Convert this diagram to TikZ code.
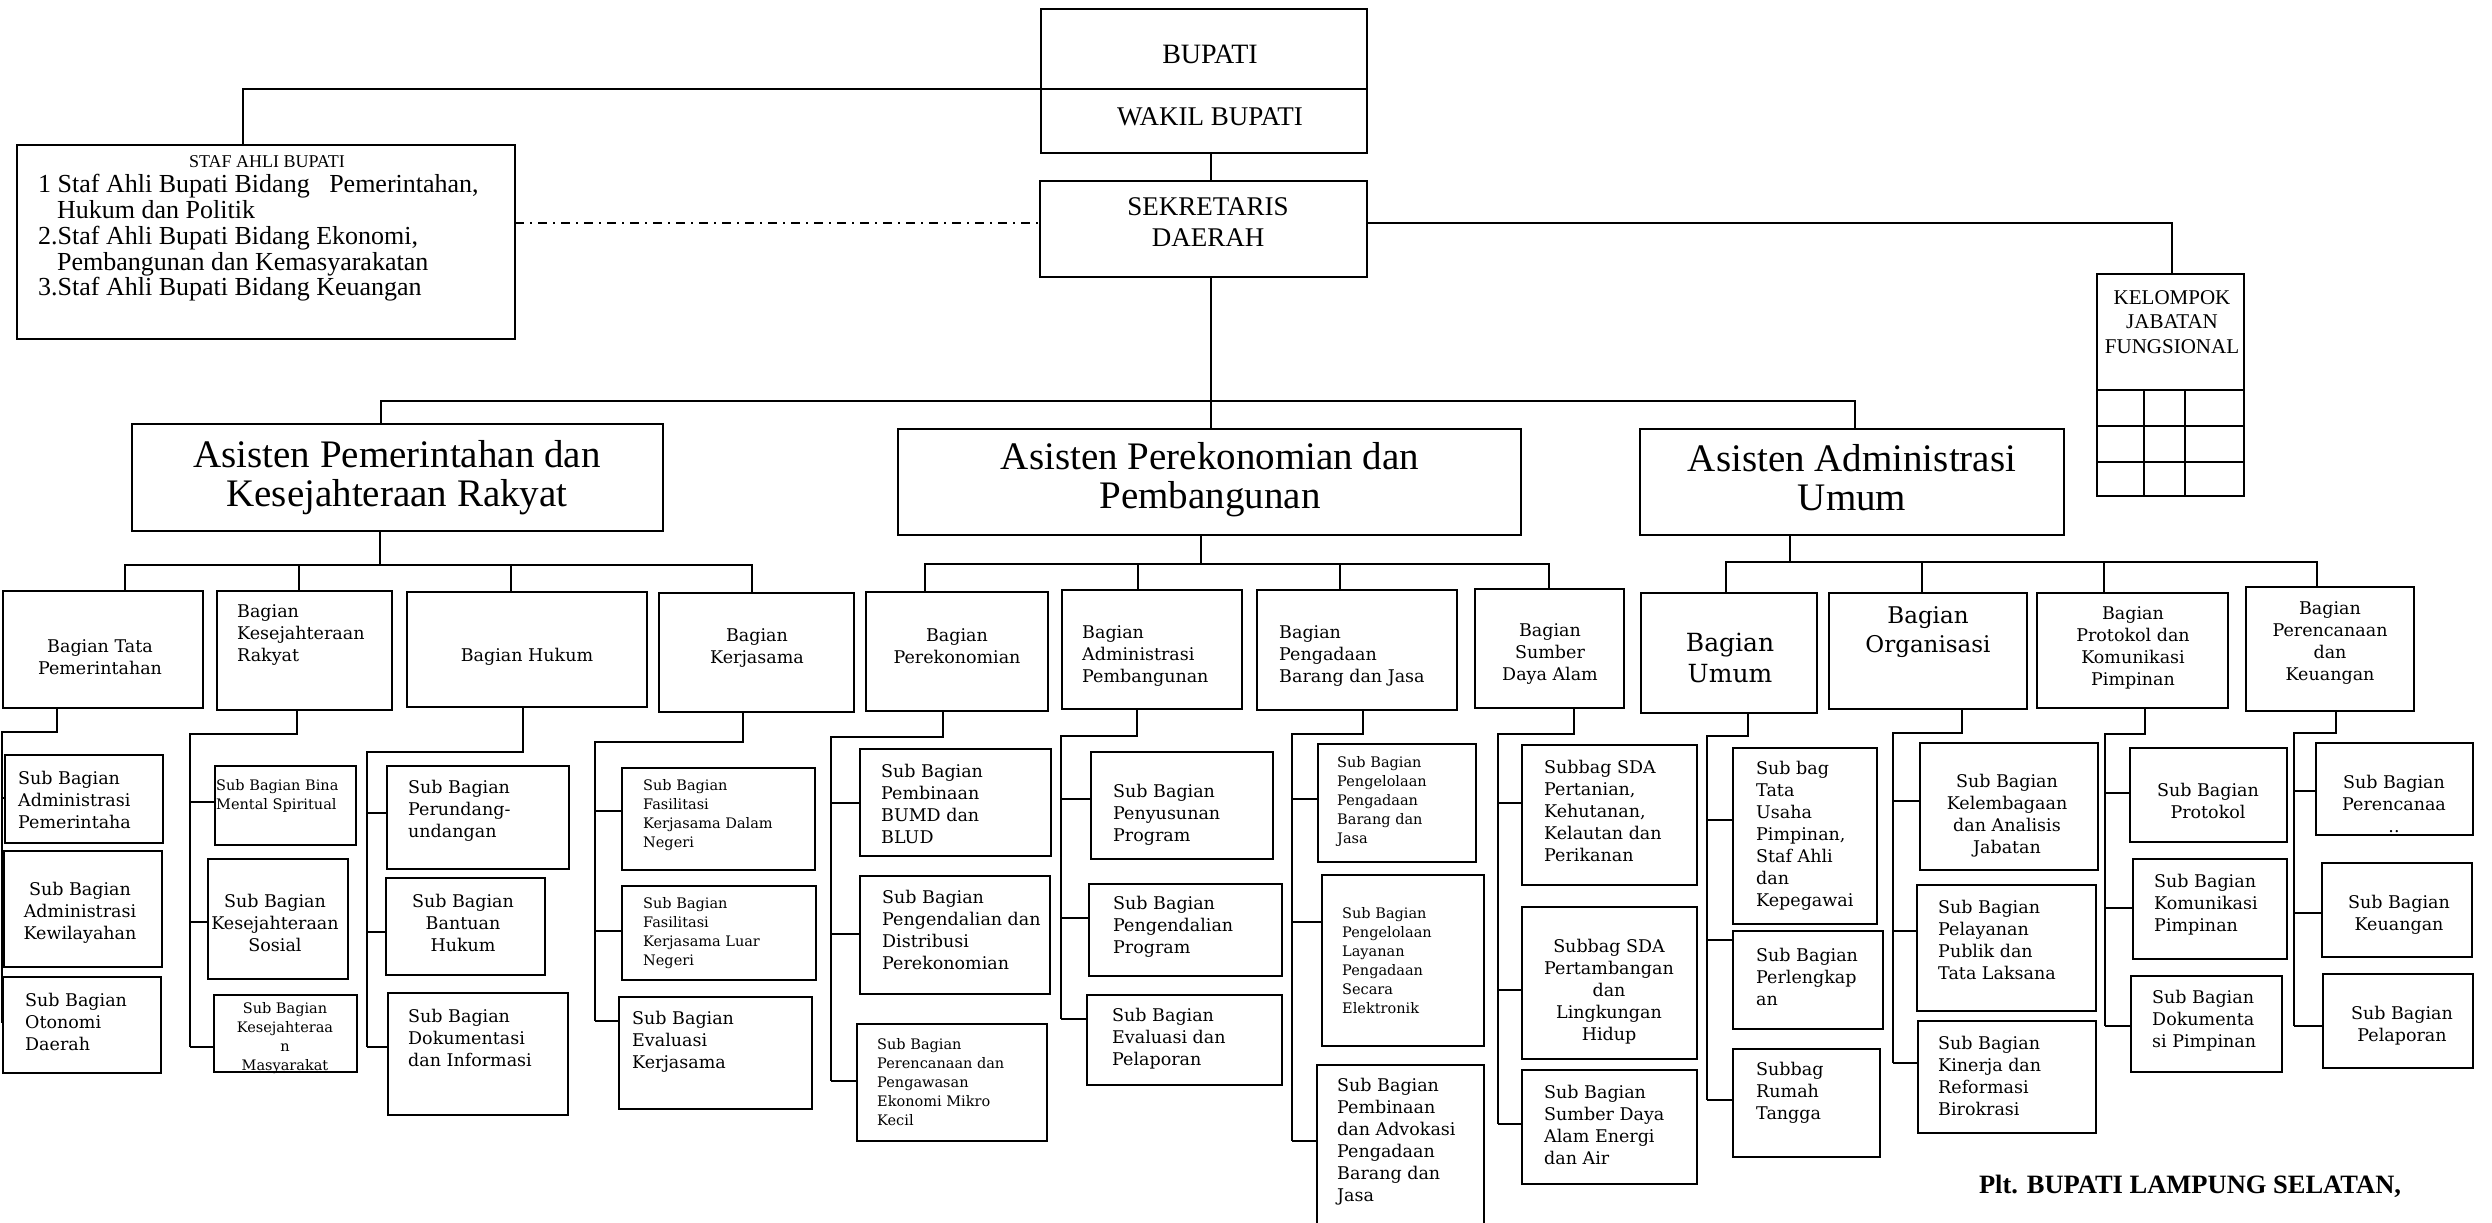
\documentclass[tikz,border=0pt]{standalone}
\usepackage{fontspec}
\setmainfont{Liberation Serif}
\newfontfamily\dser{DejaVu Serif}
\usetikzlibrary{fit}
\newcommand\fa{\dser\fontsize{17.5}{22}\selectfont}
\newcommand\fsm{\dser\fontsize{14.5}{19}\selectfont}
\newcommand\fbig{\dser\fontsize{25}{31}\selectfont}
\newcommand\fmid{\dser\fontsize{23}{29}\selectfont}
\tikzset{
  bx/.style={draw, line width=1.8pt, inner sep=0pt, outer sep=0pt},
  ln/.style={line width=1.8pt, line join=miter},
  tl/.style={inner sep=0pt, align=left, anchor=west, font=\fa},
  tc/.style={inner sep=0pt, align=center, anchor=center, font=\fa},
}
\newcommand\bxx[5]{\node[bx, fit={(#2,#3) (#4,#5)}] (#1) {};}
\newcommand\mytree[5]{\draw[ln] (#2,0 |- #1.south) |- (#4,#3) -- (#4,#5);}
\newcommand\mybr[3]{\draw[ln] (#1,#2) -- (#3.west |- #1,#2);}
\begin{document}
\begin{tikzpicture}[x=1pt,y=-1pt]
\useasboundingbox (0,0) rectangle (2492,1223);
\fill[white] (0,0) rectangle (2492,1223);
\clip (0,0) rectangle (2492,1223);

% ---------- top level ----------
\bxx{bBupati}{1041}{9}{1367}{89}
\bxx{bWakil}{1041}{89}{1367}{153}
\bxx{bSekda}{1040}{181}{1367}{277}
\bxx{bStaf}{17}{145}{515}{339}
\bxx{bKJF}{2097}{274}{2244}{390}
\bxx{bKJFg}{2097}{390}{2244}{496}
\draw[ln] (bKJFg.west |- 0,426) -- (bKJFg.east |- 0,426);
\draw[ln] (bKJFg.west |- 0,462) -- (bKJFg.east |- 0,462);
\draw[ln] (2144,0 |- bKJFg.north) -- (2144,0 |- bKJFg.south);
\draw[ln] (2185,0 |- bKJFg.north) -- (2185,0 |- bKJFg.south);

\node[font=\fontsize{28}{31}\selectfont, inner sep=0pt] (tBupati) at (1210,54) {BUPATI};
\node[font=\fontsize{27}{31}\selectfont, inner sep=0pt] (tWakil) at (1210,117) {WAKIL BUPATI};
\node[font=\fontsize{27}{31}\selectfont, inner sep=0pt, align=center] (tSekda) at (1208,222) {SEKRETARIS\\DAERAH};
\node[font=\fontsize{21}{24.5}\selectfont, inner sep=0pt, align=center] (tKJF) at (2172,322) {KELOMPOK\\JABATAN\\FUNGSIONAL};
\node[font=\fontsize{18}{20}\selectfont, inner sep=0pt] (tStafT) at (267,162) {STAF AHLI BUPATI};
\node[font=\fontsize{26}{25.8}\selectfont, inner sep=0pt, align=left, anchor=west] (tStaf) at (38,238)
  {1 Staf Ahli Bupati Bidang\ \ \ Pemerintahan,\\\hspace*{19pt}Hukum dan Politik\\2.Staf Ahli Bupati Bidang Ekonomi,\\\hspace*{19pt}Pembangunan dan Kemasyarakatan\\3.Staf Ahli Bupati Bidang Keuangan};

\coordinate (cStaf) at (243,145);
\draw[ln] (bWakil.north west) -| (cStaf);
\draw[ln] (1211,0 |- bWakil.south) -- (1211,0 |- bSekda.north);
\draw[ln, dash pattern={on 9pt off 6pt on 2pt off 6pt}] (bStaf.east |- 0,223) -- (bSekda.west |- 0,223);
\draw[ln] (bSekda.east |- 0,223) -| (2172,0 |- bKJF.north);

% ---------- asisten ----------
\bxx{bAs1}{132}{424}{663}{531}
\bxx{bAs2}{898}{429}{1521}{535}
\bxx{bAs3}{1640}{429}{2064}{535}
\node[font=\fontsize{39}{39}\selectfont, inner sep=0pt, align=center] (tAs1) at (397,478) {Asisten Pemerintahan dan\\Kesejahteraan Rakyat};
\node[font=\fontsize{39}{39}\selectfont, inner sep=0pt, align=center] (tAs2) at (1210,480) {Asisten Perekonomian dan\\Pembangunan};
\node[font=\fontsize{39}{39}\selectfont, inner sep=0pt, align=center] (tAs3) at (1852,478) {Asisten Administrasi\\Umum};

\draw[ln] (1211,0 |- bSekda.south) -- (1211,401);
\draw[ln] (381,0 |- bAs1.north) |- (1855,401) -- (1855,0 |- bAs3.north);
\draw[ln] (1211,401) -- (1211,0 |- bAs2.north);

% ---------- bagian ----------
\bxx{bTata}{3}{591}{203}{708}
\bxx{bKesR}{217}{591}{392}{710}
\bxx{bHukum}{407}{592}{647}{707}
\bxx{bKerja}{659}{593}{854}{712}
\bxx{bPerek}{866}{592}{1048}{711}
\bxx{bAdmP}{1062}{590}{1242}{709}
\bxx{bPBJ}{1257}{590}{1457}{710}
\bxx{bSDA}{1475}{589}{1624}{708}
\bxx{bUmum}{1641}{593}{1817}{713}
\bxx{bOrg}{1829}{593}{2027}{709}
\bxx{bProt}{2037}{593}{2228}{708}
\bxx{bPK}{2246}{587}{2414}{711}

\draw[ln] (380,0 |- bAs1.south) -- (380,565);
\draw[ln] (125,0 |- bTata.north) |- (752,565) -- (752,0 |- bKerja.north);
\draw[ln] (299,565) -- (299,0 |- bKesR.north);
\draw[ln] (511,565) -- (511,0 |- bHukum.north);

\draw[ln] (1201,0 |- bAs2.south) -- (1201,564);
\draw[ln] (925,0 |- bPerek.north) |- (1549,564) -- (1549,0 |- bSDA.north);
\draw[ln] (1138,564) -- (1138,0 |- bAdmP.north);
\draw[ln] (1340,564) -- (1340,0 |- bPBJ.north);

\draw[ln] (1790,0 |- bAs3.south) -- (1790,562);
\draw[ln] (1726,0 |- bUmum.north) |- (2317,562) -- (2317,0 |- bPK.north);
\draw[ln] (1922,562) -- (1922,0 |- bOrg.north);
\draw[ln] (2104,562) -- (2104,0 |- bProt.north);

\node[tc] (tTata) at (100,657) {Bagian Tata\\Pemerintahan};
\node[tl] (tKesR) at (237,635) {Bagian\\Kesejahteraan\\Rakyat};
\node[tc] (tHukum) at (527,657) {Bagian Hukum};
\node[tc] (tKerja) at (757,648) {Bagian\\Kerjasama};
\node[tc] (tPerek) at (957,646) {Bagian\\Perekonomian};
\node[tl] (tAdmP) at (1082,656) {Bagian\\Administrasi\\Pembangunan};
\node[tl] (tPBJ) at (1279,656) {Bagian\\Pengadaan\\Barang dan Jasa};
\node[tc] (tSDA) at (1550,654) {Bagian\\Sumber\\Daya Alam};
\node[tc, font=\fbig] (tUmum) at (1730,658) {Bagian\\Umum};
\node[tc, font=\fmid] (tOrg) at (1928,632) {Bagian\\Organisasi};
\node[tc] (tProt) at (2133,648) {Bagian\\Protokol dan\\Komunikasi\\Pimpinan};
\node[tc] (tPK) at (2330,643) {Bagian\\Perencanaan\\dan\\Keuangan};

% ---------- sub bagian ----------
\bxx{sT1}{5}{755}{163}{843}
\bxx{sT2}{4}{851}{162}{967}
\bxx{sT3}{3}{977}{161}{1073}
\mytree{bTata}{57}{732}{2}{1023}
\mybr{2}{798}{sT1} \mybr{2}{907}{sT2} \mybr{2}{1023}{sT3}
\node[tl] (tT1) at (18,800) {Sub Bagian\\Administrasi\\Pemerintaha};
\node[tc] (tT2) at (80,913) {Sub Bagian\\Administrasi\\Kewilayahan};
\node[tl] (tT3) at (25,1022) {Sub Bagian\\Otonomi\\Daerah};

\bxx{sK1}{215}{766}{356}{845}
\bxx{sK2}{208}{859}{348}{979}
\bxx{sK3}{214}{995}{357}{1072}
\mytree{bKesR}{297}{734}{190}{1047}
\mybr{190}{802}{sK1} \mybr{190}{922}{sK2} \mybr{190}{1047}{sK3}
\node[tl, font=\fsm] (tK1) at (216,796) {Sub Bagian Bina\\Mental Spiritual};
\node[tc] (tK2) at (275,923) {Sub Bagian\\Kesejahteraan\\Sosial};
\node[tc, font=\fsm] (tK3) at (285,1038) {Sub Bagian\\Kesejahteraa\\n\\Masyarakat};

\bxx{sH1}{387}{766}{569}{869}
\bxx{sH2}{386}{878}{545}{975}
\bxx{sH3}{388}{993}{568}{1115}
\mytree{bHukum}{523}{752}{367}{1047}
\mybr{367}{813}{sH1} \mybr{367}{932}{sH2} \mybr{367}{1047}{sH3}
\node[tl] (tH1) at (408,811) {Sub Bagian\\Perundang-\\undangan};
\node[tc] (tH2) at (463,923) {Sub Bagian\\Bantuan\\Hukum};
\node[tl] (tH3) at (408,1038) {Sub Bagian\\Dokumentasi\\dan Informasi};

\bxx{sJ1}{622}{768}{815}{870}
\bxx{sJ2}{622}{886}{816}{980}
\bxx{sJ3}{619}{997}{812}{1109}
\mytree{bKerja}{743}{742}{595}{1021}
\mybr{595}{811}{sJ1} \mybr{595}{931}{sJ2} \mybr{595}{1021}{sJ3}
\node[tl, font=\fsm] (tJ1) at (643,815) {Sub Bagian\\Fasilitasi\\Kerjasama Dalam\\Negeri};
\node[tl, font=\fsm] (tJ2) at (643,933) {Sub Bagian\\Fasilitasi\\Kerjasama Luar\\Negeri};
\node[tl] (tJ3) at (632,1042) {Sub Bagian\\Evaluasi\\Kerjasama};

\bxx{sP1}{860}{749}{1051}{856}
\bxx{sP2}{860}{876}{1050}{994}
\bxx{sP3}{857}{1024}{1047}{1141}
\mytree{bPerek}{943}{737}{831}{1081}
\mybr{831}{803}{sP1} \mybr{831}{934}{sP2} \mybr{831}{1081}{sP3}
\node[tl] (tP1) at (881,804) {Sub Bagian\\Pembinaan\\BUMD dan\\BLUD};
\node[tl] (tP2) at (882,930) {Sub Bagian\\Pengendalian dan\\Distribusi\\Perekonomian};
\node[tl, font=\fsm] (tP3) at (877,1082) {Sub Bagian\\Perencanaan dan\\Pengawasan\\Ekonomi Mikro\\Kecil};

\bxx{sA1}{1091}{752}{1273}{859}
\bxx{sA2}{1089}{884}{1282}{976}
\bxx{sA3}{1087}{995}{1282}{1085}
\mytree{bAdmP}{1137}{736}{1061}{1019}
\mybr{1061}{799}{sA1} \mybr{1061}{918}{sA2} \mybr{1061}{1019}{sA3}
\node[tl] (tA1) at (1113,815) {Sub Bagian\\Penyusunan\\Program};
\node[tl] (tA2) at (1113,927) {Sub Bagian\\Pengendalian\\Program};
\node[tl] (tA3) at (1112,1039) {Sub Bagian\\Evaluasi dan\\Pelaporan};

\bxx{sB1}{1318}{744}{1476}{862}
\bxx{sB2}{1322}{875}{1484}{1046}
\bxx{sB3}{1317}{1065}{1484}{1240}
\mytree{bPBJ}{1363}{734}{1292}{1141}
\mybr{1292}{799}{sB1} \mybr{1292}{922}{sB2} \mybr{1292}{1141}{sB3}
\node[tl, font=\fsm] (tB1) at (1337,801) {Sub Bagian\\Pengelolaan\\Pengadaan\\Barang dan\\Jasa};
\node[tl, font=\fsm] (tB2) at (1342,961) {Sub Bagian\\Pengelolaan\\Layanan\\Pengadaan\\Secara\\Elektronik};
\node[tl] (tB3) at (1337,1142) {Sub Bagian\\Pembinaan\\dan Advokasi\\Pengadaan\\Barang dan\\Jasa};

\bxx{sS1}{1522}{745}{1697}{885}
\bxx{sS2}{1522}{907}{1697}{1059}
\bxx{sS3}{1522}{1070}{1697}{1184}
\mytree{bSDA}{1574}{734}{1498}{1124}
\mybr{1498}{803}{sS1} \mybr{1498}{990}{sS2} \mybr{1498}{1124}{sS3}
\node[tl] (tS1) at (1544,811) {Subbag SDA\\Pertanian,\\Kehutanan,\\Kelautan dan\\Perikanan};
\node[tc] (tS2) at (1609,992) {Subbag SDA\\Pertambangan\\dan\\Lingkungan\\Hidup};
\node[tl] (tS3) at (1544,1125) {Sub Bagian\\Sumber Daya\\Alam Energi\\dan Air};

\bxx{sU1}{1733}{748}{1877}{924}
\bxx{sU2}{1733}{931}{1883}{1029}
\bxx{sU3}{1733}{1049}{1880}{1157}
\mytree{bUmum}{1748}{736}{1707}{1100}
\mybr{1707}{820}{sU1} \mybr{1707}{940}{sU2} \mybr{1707}{1100}{sU3}
\node[tl] (tU1) at (1756,836) {Sub bag\\Tata\\Usaha\\Pimpinan,\\Staf Ahli\\dan\\Kepegawai};
\node[tl] (tU2) at (1756,977) {Sub Bagian\\Perlengkap\\an};
\node[tl] (tU3) at (1756,1093) {Subbag\\Rumah\\Tangga};

\bxx{sO1}{1920}{743}{2098}{870}
\bxx{sO2}{1917}{885}{2096}{1011}
\bxx{sO3}{1918}{1021}{2096}{1133}
\mytree{bOrg}{1962}{733}{1893}{1063}
\mybr{1893}{801}{sO1} \mybr{1893}{931}{sO2} \mybr{1893}{1063}{sO3}
\node[tc] (tO1) at (2007,816) {Sub Bagian\\Kelembagaan\\dan Analisis\\Jabatan};
\node[tl] (tO2) at (1938,940) {Sub Bagian\\Pelayanan\\Publik dan\\Tata Laksana};
\node[tl] (tO3) at (1938,1076) {Sub Bagian\\Kinerja dan\\Reformasi\\Birokrasi};

\bxx{sR1}{2130}{748}{2287}{842}
\bxx{sR2}{2133}{859}{2287}{959}
\bxx{sR3}{2131}{976}{2282}{1072}
\mytree{bProt}{2145}{734}{2105}{1026}
\mybr{2105}{793}{sR1} \mybr{2105}{908}{sR2} \mybr{2105}{1026}{sR3}
\node[tc] (tR1) at (2208,801) {Sub Bagian\\Protokol};
\node[tl] (tR2) at (2154,905) {Sub Bagian\\Komunikasi\\Pimpinan};
\node[tl] (tR3) at (2152,1021) {Sub Bagian\\Dokumenta\\si Pimpinan};

\bxx{sQ1}{2316}{743}{2473}{835}
\bxx{sQ2}{2322}{863}{2472}{957}
\bxx{sQ3}{2323}{974}{2473}{1068}
\mytree{bPK}{2336}{733}{2294}{1026}
\mybr{2294}{791}{sQ1} \mybr{2294}{913}{sQ2} \mybr{2294}{1026}{sQ3}
\node[tc] (tQ1) at (2394,804) {Sub Bagian\\Perencanaa\\..};
\node[tc] (tQ2) at (2399,915) {Sub Bagian\\Keuangan};
\node[tc] (tQ3) at (2402,1026) {Sub Bagian\\Pelaporan};

% ---------- footer ----------
\node[font=\bfseries\fontsize{26.5}{30}\selectfont, inner sep=0pt] (tPlt) at (2190,1186) {Plt. BUPATI LAMPUNG SELATAN,};
\end{tikzpicture}
\end{document}
